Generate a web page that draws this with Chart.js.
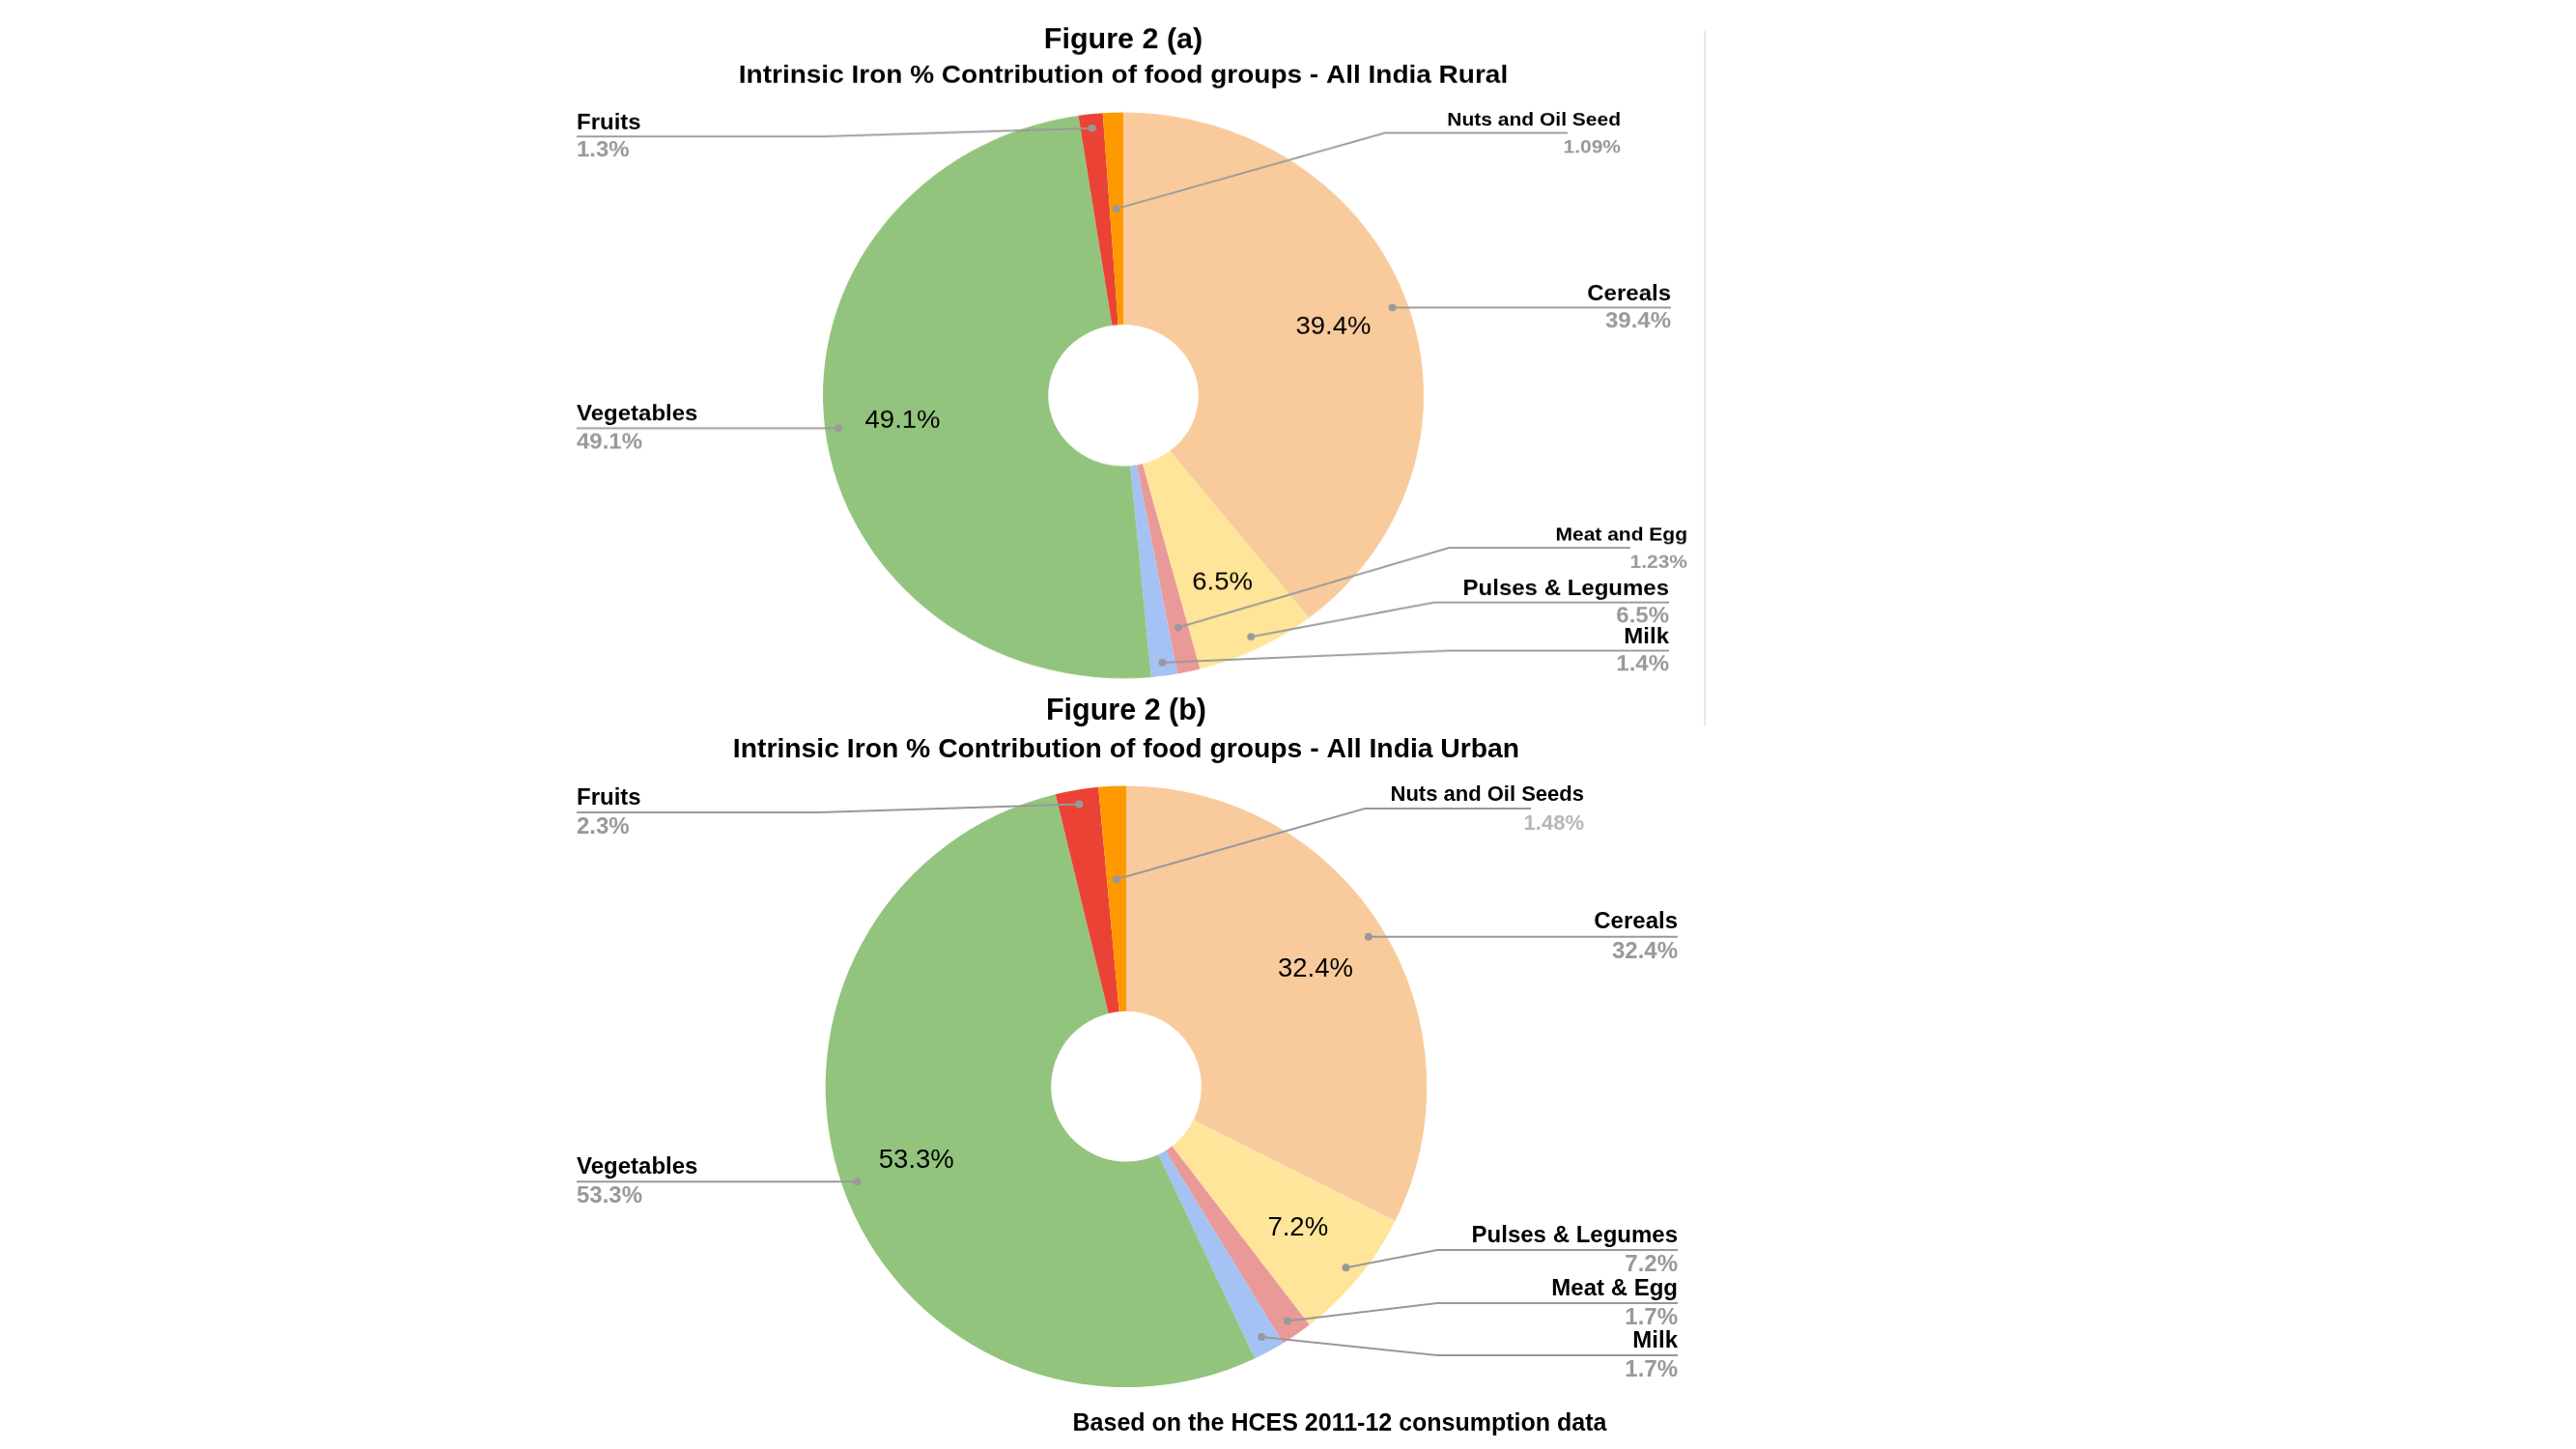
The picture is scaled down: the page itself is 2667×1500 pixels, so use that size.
<!DOCTYPE html>
<html>
<head>
<meta charset="utf-8">
<script src="https://cdn.jsdelivr.net/npm/chart.js@4.4.1/dist/chart.umd.min.js"></script>
<style>
  html, body { margin: 0; padding: 0; background: #fff; }
  body { width: 2667px; height: 1500px; position: relative; overflow: hidden; font-family: "Liberation Sans", Arial, sans-serif; }
  #wrapA { position: absolute; left: 493px; top: 0; width: 1340px; height: 760px; transform: scaleY(0.942); transform-origin: 0 0; }
  #wrapB { position: absolute; left: 496px; top: 700px; width: 1340px; height: 800px; }
  #divider { position: absolute; left: 1764px; top: 32px; width: 2px; height: 719px; background: #e8e8e8; }
  #note { position: absolute; left: 1087px; top: 1460px; width: 600px; text-align: center; font-weight: bold; font-size: 25px; line-height: 25px; color: #000; }
</style>
</head>
<body>
<div id="divider"></div>
<div id="wrapA"><canvas id="rural" width="1340" height="760"></canvas></div>
<div id="wrapB"><canvas id="urban" width="1340" height="800"></canvas></div>
<div id="note">Based on the HCES 2011-12 consumption data</div>
<script>
const ruralGroups = ['Cereals', 'Pulses & Legumes', 'Meat and Egg', 'Milk', 'Vegetables', 'Fruits', 'Nuts and Oil Seed'];
const ruralShare = [39.4, 6.5, 1.23, 1.4, 49.1, 1.3, 1.09];

const urbanGroups = ['Cereals', 'Pulses & Legumes', 'Meat & Egg', 'Milk', 'Vegetables', 'Fruits', 'Nuts and Oil Seeds'];
const urbanShare = [32.4, 7.2, 1.7, 1.7, 53.3, 2.3, 1.48];

const groupColors = ['#F9CB9C', '#FFE599', '#EA9999', '#A4C2F4', '#93C47D', '#EA4335', '#FF9900'];

// where each slice's outside label goes (canvas px); no y = straight line at anchor height
const ruralCallouts = [
    { side: 'right', edge: 1237, anchor: 0.948 },
    { side: 'right', edge: 1235, y: 662, elbow: 992, anchor: 0.953 },
    { side: 'right', edge: 1254, lineEnd: 1195, y: 602, elbow: 1007, anchor: 0.84, size: 21 },
    { side: 'right', edge: 1235, y: 715, elbow: 1008, anchor: 0.953 },
    { side: 'left', edge: 104, anchor: 0.955 },
    { side: 'left', edge: 104, y: 150, elbow: 359, anchor: 0.95 },
    { side: 'right', edge: 1185, lineEnd: 1130, y: 146, elbow: 941, anchor: 0.66, size: 21 }
];

const urbanCallouts = [
    { side: 'right', edge: 1241, anchor: 0.947 },
    { side: 'right', edge: 1241, y: 594, elbow: 992, anchor: 0.947 },
    { side: 'right', edge: 1241, y: 649, elbow: 992, anchor: 0.946 },
    { side: 'right', edge: 1241, y: 703, elbow: 992, anchor: 0.946 },
    { side: 'left', edge: 101, anchor: 0.949 },
    { side: 'left', edge: 101, y: 141, elbow: 351, anchor: 0.952 },
    { side: 'right', edge: 1144, lineEnd: 1089, y: 137, elbow: 917, anchor: 0.69, size: 22, valueColor: '#b7b7b7' }
];

const FONT = '"Liberation Sans", Arial, sans-serif';
Chart.defaults.font.family = FONT;

const calloutPlugin = (layout) => ({
    id: 'callouts',
    afterDatasetsDraw(chart) {
        const ctx = chart.ctx;
        const arcs = chart.getDatasetMeta(0).data;
        const values = chart.data.datasets[0].data;
        const names = chart.data.labels;
        ctx.save();
        arcs.forEach((arc, i) => {
            const mid = (arc.startAngle + arc.endAngle) / 2;
            const cos = Math.cos(mid), sin = Math.sin(mid);
            const text = values[i] + '%';

            // percentage inside the bigger slices
            if (values[i] > 5) {
                const r = arc.outerRadius * 0.74;
                ctx.font = '27.5px ' + FONT;
                ctx.fillStyle = '#000';
                ctx.textAlign = 'center';
                ctx.textBaseline = 'middle';
                ctx.fillText(text, arc.x + cos * r, arc.y + sin * r);
            }

            const c = layout[i];
            const ax = arc.x + cos * arc.outerRadius * c.anchor;
            const ay = arc.y + sin * arc.outerRadius * c.anchor;
            const ly = c.y !== undefined ? c.y : ay;
            const lineEnd = c.lineEnd !== undefined ? c.lineEnd : c.edge;

            ctx.strokeStyle = '#999';
            ctx.lineWidth = 2;
            ctx.beginPath();
            ctx.moveTo(ax, ay);
            if (c.elbow !== undefined) ctx.lineTo(c.elbow, ly);
            ctx.lineTo(lineEnd, ly);
            ctx.stroke();

            ctx.fillStyle = '#999';
            ctx.beginPath();
            ctx.arc(ax, ay, 4, 0, Math.PI * 2);
            ctx.fill();

            ctx.textAlign = c.side === 'left' ? 'left' : 'right';
            ctx.textBaseline = 'alphabetic';
            ctx.font = 'bold ' + (c.size || 24) + 'px ' + FONT;
            ctx.fillStyle = '#000';
            ctx.fillText(names[i], c.edge, ly - 8.5);
            ctx.fillStyle = c.valueColor || '#999';
            ctx.fillText(text, c.edge, ly + 22);
        });
        ctx.restore();
    }
});

const makeChart = (id, groups, share, callouts, title, subtitle, pad) => new Chart(document.getElementById(id), {
    type: 'doughnut',
    data: {
        labels: groups,
        datasets: [{
            data: share,
            backgroundColor: groupColors,
            borderWidth: 0,
            hoverBorderWidth: 0,
            hoverOffset: 0
        }]
    },
    options: {
        responsive: false,
        animation: false,
        events: [],
        cutout: '25%',
        layout: { padding: { top: 0, bottom: pad.bottom, left: 0, right: 0 } },
        plugins: {
            legend: { display: false },
            tooltip: { enabled: false },
            title: {
                display: true,
                text: title,
                color: '#000',
                font: { size: 30.5, weight: 'bold' },
                padding: { top: pad.title, bottom: 0 }
            },
            subtitle: {
                display: true,
                text: subtitle,
                color: '#000',
                font: { size: pad.subSize, weight: 'bold' },
                padding: { top: pad.subTop, bottom: pad.subBottom }
            }
        }
    },
    plugins: [calloutPlugin(callouts)]
});

makeChart('rural', ruralGroups, ruralShare, ruralCallouts,
    'Figure 2 (a)', 'Intrinsic Iron % Contribution of food groups - All India Rural',
    { title: 26.3, subTop: 3.5, subBottom: 23.5, bottom: 14.5, subSize: 28 });

makeChart('urban', urbanGroups, urbanShare, urbanCallouts,
    'Figure 2 (b)', 'Intrinsic Iron % Contribution of food groups - All India Urban',
    { title: 18.7, subTop: 3.9, subBottom: 20.3, bottom: 63.9, subSize: 28.3 });
</script>
</body>
</html>
